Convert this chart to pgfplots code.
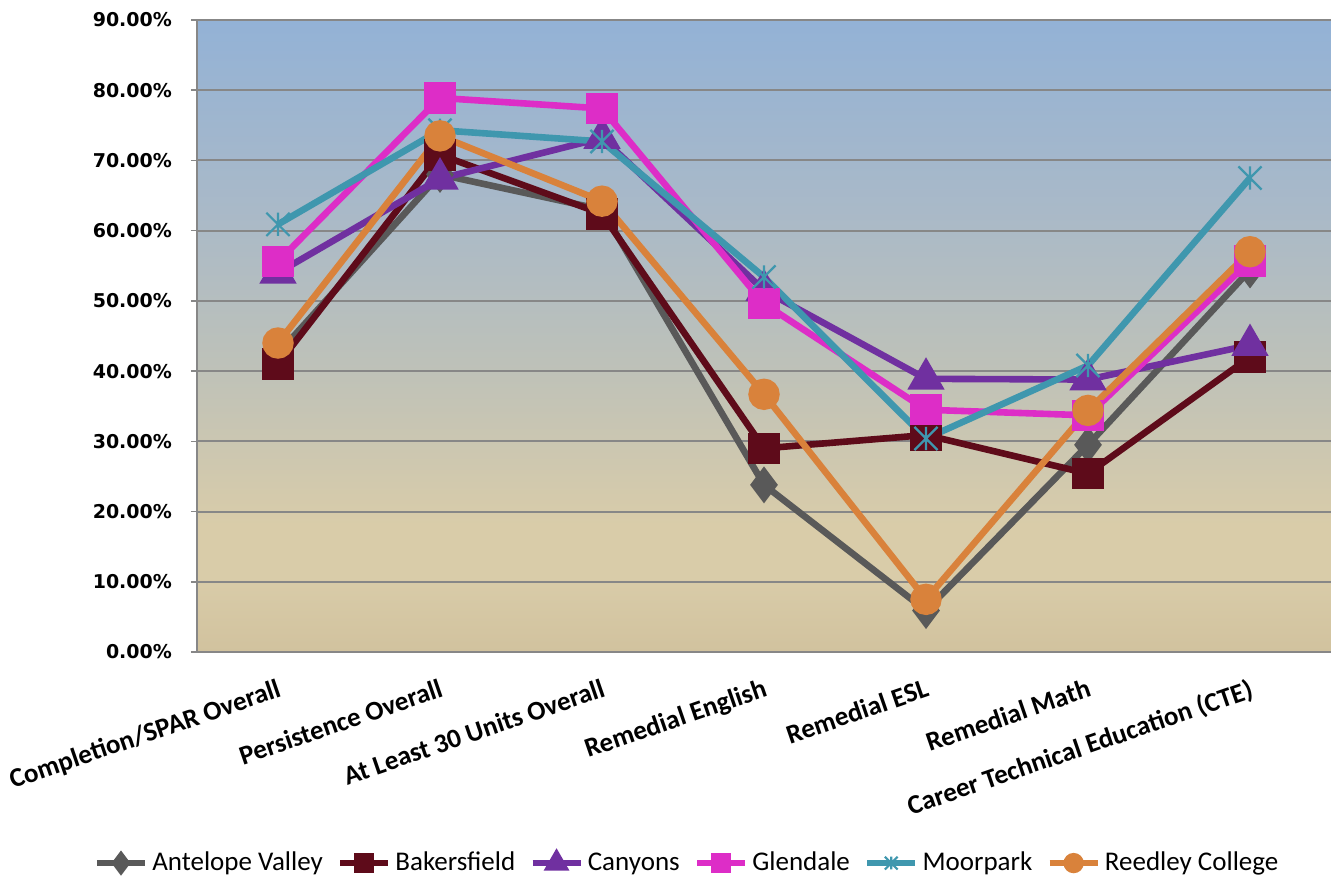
\documentclass[border=0pt]{standalone}
\usepackage{fontspec}
\setmainfont{Carlito}
\newfontfamily\tickfont{DejaVu Sans}
\usepackage{pgfplots}
\pgfplotsset{compat=1.18}
\usepackage{pgfplotstable}

\definecolor{cAnt}{HTML}{595959}
\definecolor{cBak}{HTML}{5E0B1A}
\definecolor{cCan}{HTML}{7030A0}
\definecolor{cGle}{HTML}{DD2DC7}
\definecolor{cMoo}{HTML}{3F97AE}
\definecolor{cRee}{HTML}{D9823B}
\definecolor{gridc}{HTML}{878787}
\definecolor{bgTop}{HTML}{93B2D6}
\definecolor{bgMidB}{HTML}{A9B9C8}
\definecolor{bgMid}{HTML}{BDC1B9}
\definecolor{bgTan}{HTML}{D9CCA9}
\definecolor{bgBot}{HTML}{D1C29E}

\pgfdeclareverticalshading{bgshade}{100bp}{%
  color(0bp)=(bgBot); color(25bp)=(bgBot); color(31bp)=(bgTan); color(35bp)=(bgTan);
  color(48bp)=(bgMid); color(60bp)=(bgMidB); color(75bp)=(bgTop); color(100bp)=(bgTop)}

% Excel-like star: an X plus a vertical bar
\pgfdeclareplotmark{xstar}{%
  \pgfpathmoveto{\pgfqpoint{0pt}{\pgfplotmarksize}}%
  \pgfpathlineto{\pgfqpoint{0pt}{-\pgfplotmarksize}}%
  \pgfpathmoveto{\pgfqpoint{-\pgfplotmarksize}{-\pgfplotmarksize}}%
  \pgfpathlineto{\pgfqpoint{\pgfplotmarksize}{\pgfplotmarksize}}%
  \pgfpathmoveto{\pgfqpoint{-\pgfplotmarksize}{\pgfplotmarksize}}%
  \pgfpathlineto{\pgfqpoint{\pgfplotmarksize}{-\pgfplotmarksize}}%
  \pgfusepathqstroke}

% values in percent; x = 0..6 categories
\pgfplotstableread{
x ant bak can gle moo ree
0 42.5 41.0 54.0 55.6 60.9 44.0
1 68.0 70.8 67.4 78.9 74.3 73.5
2 63.0 62.4 73.2 77.4 72.7 64.2
3 23.8 29.0 51.5 49.6 53.4 36.7
4  5.9 30.9 38.9 34.5 30.4  7.5
5 29.5 25.4 38.8 33.7 40.8 34.4
6 54.4 42.0 43.7 55.7 67.5 57.0
}\datatable

\begin{document}
\begin{tikzpicture}
\begin{axis}[
  at={(0,0)}, anchor=south west,
  scale only axis,
  width=567pt, height=316pt,
  xmin=-0.5, xmax=6.5,
  ymin=0, ymax=90,
  ytick={0,10,...,90},
  xtick={0,...,6},
  xticklabels={Completion/SPAR Overall, Persistence Overall, At Least 30 Units Overall, Remedial English, Remedial ESL, Remedial Math, Career Technical Education (CTE)},
  xticklabel style={font=\fontsize{13.5}{15}\selectfont\bfseries, rotate=19, anchor=north east, inner sep=1pt, xshift=-3pt, yshift=-8pt},
  x tick style={draw=none},
  /pgf/number format/assume math mode=true,
  yticklabel={\pgfmathprintnumber[fixed, fixed zerofill, precision=2]{\tick}\%},
  yticklabel style={font=\tickfont\fontsize{9.5}{11}\selectfont\bfseries, anchor=east, xshift=-6pt},
  y tick style={draw=gridc, line width=0.8pt},
  tick align=outside,
  major tick length=3pt,
  axis x line*=bottom, axis y line*=left,
  axis line style={draw=gridc, line width=1pt, -},
  ymajorgrids, grid style={draw=gridc, line width=1pt},
  axis background/.style={shade, shading=bgshade},
  clip=false,
  every axis plot/.append style={line width=3.3pt},
  legend style={at={(0.433,-0.334)}, anchor=center, legend columns=6, draw=none, fill=none,
    font=\fontsize{13.5}{15}\selectfont, inner sep=0pt,
    /tikz/every even column/.append style={column sep=5pt}},
  legend image code/.code={\draw[mark repeat=2, mark phase=2, #1, /tikz/every mark/.append style={scale=0.55}] plot coordinates {(0pt,0pt) (12pt,0pt) (24pt,0pt)};},
]
\addplot[color=cAnt, mark=diamond*, mark size=6.5pt, mark options={solid}] table[x=x, y=ant] {\datatable};
\addlegendentry{Antelope Valley}
\addplot[color=cBak, mark=square*, mark size=6.2pt] table[x=x, y=bak] {\datatable};
\addlegendentry{Bakersfield}
\addplot[color=cCan, mark=triangle*, mark size=7.5pt] table[x=x, y=can] {\datatable};
\addlegendentry{Canyons}
\addplot[color=cGle, mark=square*, mark size=6.2pt] table[x=x, y=gle] {\datatable};
\addlegendentry{Glendale}
\addplot[color=cMoo, mark=xstar, mark size=5.8pt, mark options={line width=1.1pt}] table[x=x, y=moo] {\datatable};
\addlegendentry{Moorpark}
\addplot[color=cRee, mark=*, mark size=6.2pt] table[x=x, y=ree] {\datatable};
\addlegendentry{Reedley College}
\end{axis}
\pgfresetboundingbox
\path[use as bounding box] (-98.5pt,-115pt) rectangle (567pt,326pt);
\end{tikzpicture}
\end{document}
